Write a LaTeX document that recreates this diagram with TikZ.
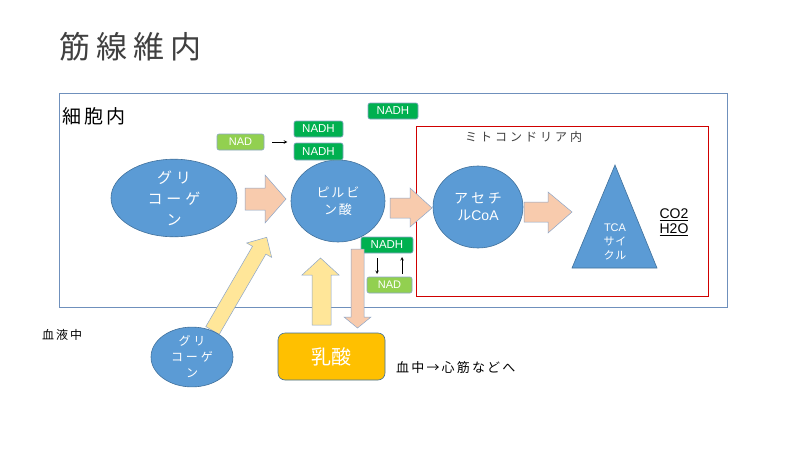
\documentclass[tikz,border=0pt]{standalone}
\usepackage{fontspec}
\setmainfont{Noto Sans CJK JP}
\newfontfamily\latinfont{Liberation Sans}
\usetikzlibrary{shapes.geometric}
\definecolor{cellblue}{HTML}{6F90BC}
\definecolor{ballfill}{HTML}{5B9BD5}
\definecolor{balledge}{HTML}{41719C}
\definecolor{peach}{HTML}{F8CBAD}
\definecolor{lightyel}{HTML}{FFE699}
\definecolor{arredge}{HTML}{8CA6C9}
\definecolor{nadgreen}{HTML}{92D050}
\definecolor{nadhgreen}{HTML}{00B050}
\definecolor{lacorange}{HTML}{FFC000}
\definecolor{mitored}{HTML}{D00000}
\definecolor{titlegray}{HTML}{404040}
\tikzset{
  ball/.style={ellipse, fill=ballfill, draw=balledge, line width=0.6pt, text=white, align=center, inner sep=0pt},
  nadbox/.style={rectangle, rounded corners=2pt, fill=nadgreen, draw=arredge, line width=0.6pt, text=white, font=\latinfont\fontsize{11}{11}\selectfont, inner sep=0pt},
  nadhbox/.style={rectangle, rounded corners=2pt, fill=nadhgreen, draw=arredge, line width=0.6pt, text=white, font=\latinfont\fontsize{11.5}{11.5}\selectfont, inner sep=0pt},
  peacharrow/.style={fill=peach, draw=arredge, line width=0.5pt, line join=miter},
  yelarrow/.style={fill=lightyel, draw=arredge, line width=0.5pt, line join=miter},
  smallarr/.style={-stealth, line width=0.6pt},
  plain/.style={inner sep=0pt, anchor=west}
}
\begin{document}
\begin{tikzpicture}[x=1pt,y=-1pt]
\useasboundingbox[fill=white] (0,0) rectangle (800,450);

% title
\node[plain, text=titlegray, font=\fontsize{31}{31}\selectfont] (title) at (59,47) {筋\hspace{6pt}線\hspace{6pt}維\hspace{6pt}内};

% cell box
\node[draw=cellblue, line width=0.9pt, minimum width=668pt, minimum height=214pt, inner sep=0pt, anchor=north west] (cell) at (59,93) {};
\node[plain, font=\fontsize{19}{19}\selectfont] (celllbl) at (62,116) {細\hspace{3pt}胞\hspace{3pt}内};

% mitochondria box
\node[draw=mitored, line width=0.8pt, minimum width=292pt, minimum height=170pt, inner sep=0pt, anchor=north west] (mito) at (416,126) {};
\node[plain, text=titlegray, font=\fontsize{12}{12}\selectfont] (mitolbl) at (465,137) {ミ\hspace{3pt}ト\hspace{3pt}コ\hspace{3pt}ン\hspace{3pt}ド\hspace{3pt}リ\hspace{3pt}ア\hspace{3pt}内};

% glycogen inside
\node[ball, minimum width=126pt, minimum height=64pt, font=\fontsize{15}{21}\selectfont] (gly) at (174,198) {グ\hspace{4pt}リ\\コ\hspace{4pt}ー\hspace{4pt}ゲ\\ン};

% pyruvate
\node[ball, minimum width=94pt, minimum height=82pt, font=\fontsize{13}{17}\selectfont] (pyr) at (338,201) {ピ\hspace{2pt}ル\hspace{2pt}ビ\\ン\hspace{2pt}酸};

% acetyl CoA
\node[ball, minimum width=90pt, minimum height=82pt, font=\fontsize{14}{17}\selectfont] (acoa) at (478,207) {ア\hspace{3pt}セ\hspace{3pt}チ\\ル{\latinfont CoA}};

% TCA triangle
\coordinate (tcaA) at (615,165);
\coordinate (tcaB) at (572,268);
\coordinate (tcaC) at (657,268);
\fill[ballfill, draw=balledge, line width=0.6pt] (tcaA) -- (tcaB) -- (tcaC) -- cycle;
\node[text=white, align=center, font=\fontsize{11}{14}\selectfont, inner sep=0pt] (tca) at (615,242) {{\latinfont TCA}\\サ\hspace{1pt}イ\\ク\hspace{1pt}ル};

% CO2 H2O
\node[inner sep=0pt, font=\latinfont\fontsize{14}{14}\selectfont] (co2) at (674,215) {\underline{CO2}};
\node[inner sep=0pt, font=\latinfont\fontsize{14}{14}\selectfont] (h2o) at (674,230) {\underline{H2O}};

% NAD / NADH top
\node[nadbox, minimum width=47pt, minimum height=16pt] (nad1) at (240.5,142) {NAD};
\node[nadhbox, minimum width=49pt, minimum height=16pt] (nadh1) at (318.5,129) {NADH};
\node[nadhbox, minimum width=49pt, minimum height=17pt] (nadh2) at (318.5,151.5) {NADH};
\node[nadhbox, minimum width=50pt, minimum height=16pt] (nadh3) at (393,111) {NADH};
\draw[smallarr] (nad1.east) ++(8pt,0) -- ++(15pt,0);

% NADH / NAD bottom
\node[nadhbox, minimum width=52pt, minimum height=16pt] (nadh4) at (387,245) {NADH};
\node[nadbox, minimum width=45pt, minimum height=16pt] (nad2) at (389.5,285) {NAD};
\draw[smallarr] (377,258) -- (377,274);
\draw[smallarr] (402,274) -- (402,257);

% block arrows (horizontal)
\draw[peacharrow] (245,188) -- (265,188) -- (265,175) -- (286,199) -- (265,223) -- (265,210) -- (245,210) -- cycle;
\draw[peacharrow] (390,198) -- (410,198) -- (410,188) -- (432,208) -- (410,227) -- (410,218) -- (390,218) -- cycle;
\draw[peacharrow] (524,202) -- (548,202) -- (548,192) -- (572,212) -- (548,233) -- (548,222) -- (524,222) -- cycle;

% down peach arrow (pyruvate -> lactate)
\draw[peacharrow] (351,249) -- (364,249) -- (364,317) -- (371,317) -- (357.5,328) -- (344,317) -- (351,317) -- cycle;
% up yellow arrow (lactate -> pyruvate)
\draw[yelarrow] (312,325) -- (312,275) -- (302,275) -- (320.5,258) -- (339,275) -- (331,275) -- (331,325) -- cycle;
% diagonal yellow arrow (blood glycogen -> inside)
\draw[yelarrow] (219.2,334.4) -- (265.9,254.1) -- (271.7,257.4) -- (266.7,237.3) -- (246.7,243.0) -- (252.5,246.3) -- (205.8,326.6) -- cycle;

% blood
\node[plain, font=\fontsize{12}{12}\selectfont] (bloodlbl) at (42,335) {血\hspace{2pt}液\hspace{2pt}中};
\node[ball, minimum width=82pt, minimum height=52pt, font=\fontsize{12}{16}\selectfont] (gly2) at (192,357) {グ\hspace{3pt}リ\\コ\hspace{3pt}ー\hspace{3pt}ゲ\\ン};

% lactate
\node[rectangle, rounded corners=7pt, fill=lacorange, draw=balledge, line width=0.6pt, minimum width=107pt, minimum height=47pt, text=white, font=\fontsize{20}{20}\selectfont, inner sep=0pt] (lac) at (331.5,356.5) {乳酸};
\node[plain, font=\fontsize{13}{13}\selectfont] (dest) at (396,368) {血\,中\,→\,心\,筋\,な\,ど\,へ};
\end{tikzpicture}
\end{document}
